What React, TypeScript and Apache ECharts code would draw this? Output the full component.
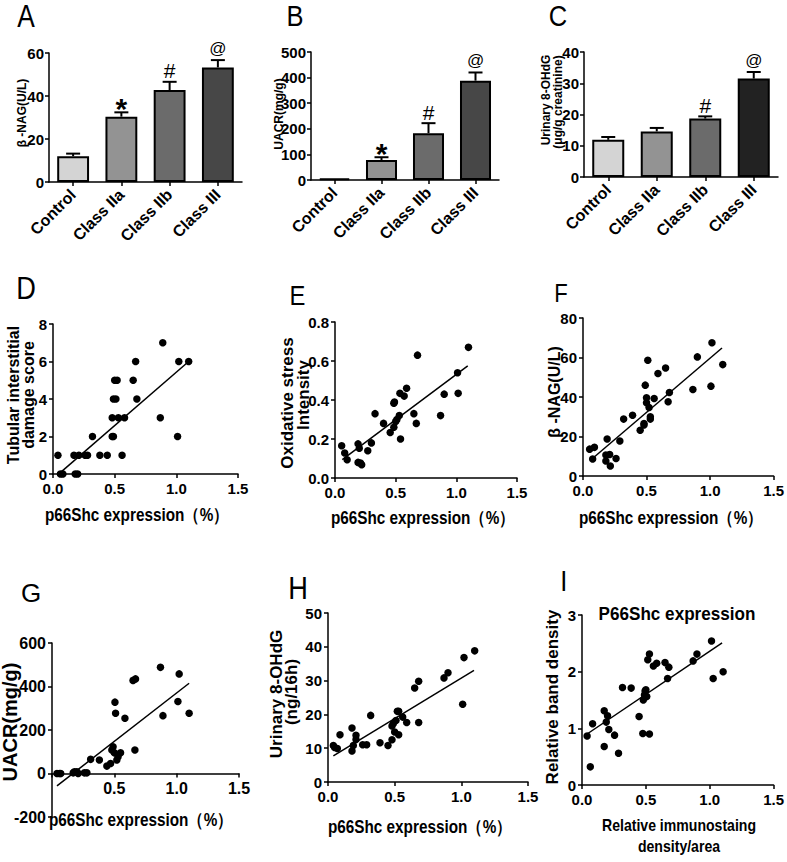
import React, { useEffect, useRef } from "react";
import * as echarts from "echarts";

const FONT = "'Liberation Sans', Arial, Helvetica, sans-serif";
const NARROW = "'Liberation Sans Narrow', 'Arial Narrow', 'Liberation Sans', Arial, sans-serif";

// ---------- Bar panels (A, B, C) ----------
const barCategories = ["Control", "Class IIa", "Class IIb", "Class III"];
const barColorsAB = ["#d4d4d4", "#939393", "#6b6b6b", "#474747"];
const barColorsC = ["#d4d4d4", "#939393", "#6b6b6b", "#222222"];

const nagMeans = [12.0, 30.4, 42.8, 53.3];
const nagSem = [1.2, 2.0, 3.8, 3.4];
const nagMarks = ["", "*", "#", "@"];

const uacrMeans = [6, 78, 183, 388];
const uacrSem = [0, 11, 39, 32];
const uacrMarks = ["", "*", "#", "@"];

const ohdgMeans = [11.9, 14.6, 18.7, 31.5];
const ohdgSem = [0.9, 1.1, 0.7, 2.1];
const ohdgMarks = ["", "", "#", "@"];

// ---------- Scatter panels ----------
const dX = [0.04, 0.06, 0.08, 0.18, 0.2, 0.17, 0.21, 0.26, 0.28, 0.38, 0.44, 0.56, 0.32, 0.48, 0.49, 1.01, 0.48, 0.53, 0.58, 0.87, 0.49, 0.51, 0.68, 0.5, 0.52, 0.65, 0.67, 1.02, 1.1, 0.89];
const dY = [1, 0, 0, 0, 0, 1, 1, 1, 1, 1, 1, 1, 2, 2, 2, 2, 3, 3, 3, 3, 4, 4, 4, 5, 5, 5, 6, 6, 6, 7];
const dFitX = [0.05, 1.1];
const dFitY = [0.02, 6.0];

const eX = [0.055, 0.08, 0.1, 0.19, 0.2, 0.19, 0.21, 0.22, 0.27, 0.3, 0.33, 0.4, 0.455, 0.485, 0.49, 0.485, 0.5, 0.51, 0.53, 0.535, 0.54, 0.57, 0.59, 0.65, 0.67, 0.68, 0.87, 0.9, 1.01, 1.015, 1.1];
const eY = [0.165, 0.128, 0.094, 0.175, 0.153, 0.08, 0.077, 0.068, 0.14, 0.18, 0.33, 0.28, 0.233, 0.383, 0.39, 0.26, 0.29, 0.3, 0.32, 0.434, 0.2, 0.42, 0.46, 0.33, 0.28, 0.63, 0.32, 0.43, 0.54, 0.434, 0.67];
const eFitX = [0.06, 1.094];
const eFitY = [0.094, 0.575];

const fX = [0.052, 0.076, 0.09, 0.18, 0.18, 0.19, 0.21, 0.215, 0.26, 0.29, 0.32, 0.39, 0.45, 0.48, 0.48, 0.49, 0.5, 0.5, 0.51, 0.52, 0.53, 0.53, 0.56, 0.59, 0.65, 0.67, 0.68, 0.865, 0.9, 1.007, 1.015, 1.1];
const fY = [13.6, 8.6, 14.5, 7.6, 10.6, 18.7, 10.9, 5.1, 8.9, 17.7, 28.8, 30.8, 23.2, 25.8, 26.6, 46, 37.1, 39.6, 58.6, 34.7, 30, 28.8, 39.2, 51.9, 54.7, 37.6, 42.3, 43.8, 60.3, 45.5, 67.5, 56.4];
const fFitX = [0.07, 1.094];
const fFitY = [8.6, 64.8];

const gX = [0.04, 0.06, 0.07, 0.17, 0.18, 0.2, 0.21, 0.26, 0.28, 0.31, 0.38, 0.44, 0.47, 0.48, 0.49, 0.5, 0.505, 0.51, 0.52, 0.53, 0.55, 0.585, 0.65, 0.67, 0.665, 0.87, 0.89, 1.01, 1.02, 1.1];
const gY = [0, 0, 0, 3, 8, 8, 0, 3, 3, 65, 62, 34, 46, 108, 123, 95, 328, 277, 62, 77, 95, 254, 428, 435, 108, 488, 266, 331, 458, 277];
const gFitX = [0.04, 1.1];
const gFitY = [-57, 415];

const hX = [0.04, 0.05, 0.07, 0.09, 0.18, 0.18, 0.19, 0.21, 0.21, 0.26, 0.29, 0.32, 0.39, 0.45, 0.48, 0.48, 0.49, 0.5, 0.51, 0.52, 0.53, 0.53, 0.56, 0.59, 0.65, 0.68, 0.68, 0.87, 0.9, 1.01, 1.02, 1.1];
const hY = [10.8, 10.2, 9.9, 14, 16, 9.2, 10.8, 13.8, 12.6, 11, 11, 19.7, 11.6, 10.8, 12.5, 16.6, 17.3, 14.8, 18.2, 20.9, 20.9, 14, 19.2, 17.6, 27.8, 17.6, 29.8, 30.8, 32.3, 23, 36.8, 38.8];
const hFitX = [0.04, 1.095];
const hFitY = [7.7, 33.0];

const iX = [0.04, 0.065, 0.083, 0.174, 0.174, 0.19, 0.2, 0.21, 0.255, 0.286, 0.317, 0.385, 0.447, 0.476, 0.48, 0.489, 0.494, 0.5, 0.507, 0.515, 0.528, 0.528, 0.559, 0.585, 0.65, 0.67, 0.68, 0.87, 0.9, 1.014, 1.027, 1.105];
const iY = [0.865, 0.32, 1.08, 1.31, 0.68, 1.11, 1.22, 0.98, 0.88, 0.56, 1.72, 1.71, 1.21, 0.91, 1.5, 1.59, 1.66, 1.68, 1.56, 2.21, 2.31, 0.9, 2.1, 2.15, 2.16, 1.88, 2.08, 2.19, 2.31, 2.54, 1.88, 2.0];
const iFitX = [0.04, 1.097];
const iFitY = [0.9, 2.51];

const xTicks = { min: 0, max: 1.5, interval: 0.5 };

const zip = (xs: number[], ys: number[]) => xs.map((x, i) => [x, ys[i]]);

const AXIS_LINE = { show: true, onZero: false, lineStyle: { color: "#000", width: 1.5 } };
const AXIS_TICK = { show: true, length: 4, lineStyle: { color: "#000", width: 1.5 } };

const markStyle: Record<string, { size: number; weight: string; dy: number }> = {
  "*": { size: 30, weight: "bold", dy: -4 },
  "#": { size: 21, weight: "normal", dy: -11 },
  "@": { size: 17, weight: "normal", dy: -12 },
};

function txt(
  text: string,
  x: number,
  y: number,
  size: number,
  opts: { weight?: string; rot?: number; sx?: number } = {}
) {
  return {
    type: "text",
    x,
    y,
    rotation: opts.rot || 0,
    scaleX: opts.sx || 1,
    silent: true,
    style: {
      text,
      fill: "#000",
      fontSize: size,
      lineHeight: size,
      fontWeight: opts.weight || "bold",
      fontFamily: FONT,
      align: "center",
      verticalAlign: "middle",
      textAlign: "center",
      textVerticalAlign: "middle",
    },
  };
}

export default function App() {
  const ref = useRef<HTMLDivElement>(null);

  useEffect(() => {
    document.body.style.margin = "0";
    if (!ref.current) return;
    const chart = echarts.init(ref.current, undefined, { renderer: "svg" });

    const grids = [
      { left: 49, top: 53, width: 193, height: 129 },
      { left: 311, top: 52, width: 188, height: 128 },
      { left: 584, top: 52, width: 194, height: 125 },
      { left: 53, top: 324, width: 185, height: 150 },
      { left: 335, top: 322, width: 182, height: 156 },
      { left: 583, top: 318, width: 191, height: 158 },
      { left: 52, top: 643, width: 187, height: 174 },
      { left: 328, top: 613, width: 200, height: 169 },
      { left: 582, top: 615, width: 193, height: 170 },
    ];

    const barY = [
      { min: 0, max: 60, interval: 20 },
      { min: 0, max: 500, interval: 100 },
      { min: 0, max: 40, interval: 10 },
    ];
    const scY = [
      { min: 0, max: 8, interval: 2, dec: 0 },
      { min: 0, max: 0.8, interval: 0.2, dec: 1 },
      { min: 0, max: 80, interval: 20, dec: 0 },
      { min: -200, max: 600, interval: 200, dec: 0 },
      { min: 0, max: 50, interval: 10, dec: 0 },
      { min: 0, max: 3, interval: 1, dec: 0 },
    ];

    const xAxes: any[] = [];
    const yAxes: any[] = [];
    for (let g = 0; g < 3; g++) {
      xAxes.push({
        gridIndex: g,
        type: "category",
        data: barCategories,
        axisLine: AXIS_LINE,
        axisTick: { ...AXIS_TICK, alignWithLabel: true },
        axisLabel: {
          interval: 0,
          rotate: 45,
          margin: 10,
          color: "#000",
          fontSize: 16,
          fontWeight: "bold",
          fontFamily: FONT,
        },
        splitLine: { show: false },
      });
      yAxes.push({
        gridIndex: g,
        type: "value",
        ...barY[g],
        axisLine: AXIS_LINE,
        axisTick: AXIS_TICK,
        axisLabel: { margin: 5, color: "#000", fontSize: 15, fontWeight: "bold", fontFamily: NARROW },
        splitLine: { show: false },
      });
    }
    for (let k = 0; k < 6; k++) {
      const g = k + 3;
      const isG = k === 3;
      // G: x axis drawn on the zero line of its y axis
      const zeroOffset = isG ? -(174 * 200) / 800 : 0;
      xAxes.push({
        gridIndex: g,
        type: "value",
        position: "bottom",
        offset: zeroOffset,
        ...xTicks,
        axisLine: AXIS_LINE,
        axisTick: AXIS_TICK,
        axisLabel: {
          margin: 7,
          color: "#000",
          fontSize: isG ? 16 : 15,
          fontWeight: "bold",
          fontFamily: FONT,
          formatter: (v: number) => (isG && v === 0 ? "" : v.toFixed(1)),
        },
        splitLine: { show: false },
      });
      const sy = scY[k];
      yAxes.push({
        gridIndex: g,
        type: "value",
        min: sy.min,
        max: sy.max,
        interval: sy.interval,
        axisLine: AXIS_LINE,
        axisTick: AXIS_TICK,
        axisLabel: {
          margin: 6,
          color: "#000",
          fontSize: isG ? 16 : 15,
          fontWeight: "bold",
          fontFamily: FONT,
          formatter: (v: number) => v.toFixed(sy.dec),
        },
        splitLine: { show: false },
      });
    }

    const series: any[] = [];
    const barSets = [
      { means: nagMeans, sem: nagSem, marks: nagMarks, colors: barColorsAB },
      { means: uacrMeans, sem: uacrSem, marks: uacrMarks, colors: barColorsAB },
      { means: ohdgMeans, sem: ohdgSem, marks: ohdgMarks, colors: barColorsC },
    ];
    barSets.forEach((s, g) => {
      series.push({
        type: "bar",
        xAxisIndex: g,
        yAxisIndex: g,
        barWidth: "66%",
        data: s.means.map((v, i) => ({
          value: v,
          itemStyle: { color: s.colors[i], borderColor: "#000", borderWidth: 2 },
        })),
      });
      series.push({
        type: "custom",
        xAxisIndex: g,
        yAxisIndex: g,
        z: 5,
        data: s.means.map((m, i) => [i, m, s.sem[i]]),
        renderItem: (params: any, api: any) => {
          const i = api.value(0);
          const m = api.value(1);
          const e = api.value(2);
          const p0 = api.coord([i, m]);
          const p1 = api.coord([i, m + e]);
          const children: any[] = [];
          if (e > 0) {
            children.push({
              type: "line",
              shape: { x1: p0[0], y1: p0[1], x2: p1[0], y2: p1[1] },
              style: { stroke: "#000", lineWidth: 2 },
            });
            children.push({
              type: "line",
              shape: { x1: p1[0] - 7, y1: p1[1], x2: p1[0] + 7, y2: p1[1] },
              style: { stroke: "#000", lineWidth: 2 },
            });
          }
          const mk = s.marks[params.dataIndex];
          if (mk) {
            const st = markStyle[mk];
            children.push({
              type: "text",
              x: p1[0],
              y: p1[1] + st.dy,
              style: {
                text: mk,
                fill: "#000",
                fontSize: st.size,
                fontWeight: st.weight,
                fontFamily: FONT,
                align: "center",
                verticalAlign: "middle",
              },
            });
          }
          return { type: "group", children };
        },
      });
    });

    const scSets = [
      { x: dX, y: dY, fx: dFitX, fy: dFitY },
      { x: eX, y: eY, fx: eFitX, fy: eFitY },
      { x: fX, y: fY, fx: fFitX, fy: fFitY },
      { x: gX, y: gY, fx: gFitX, fy: gFitY },
      { x: hX, y: hY, fx: hFitX, fy: hFitY },
      { x: iX, y: iY, fx: iFitX, fy: iFitY },
    ];
    scSets.forEach((s, k) => {
      const g = k + 3;
      series.push({
        type: "line",
        xAxisIndex: g,
        yAxisIndex: g,
        data: zip(s.fx, s.fy),
        symbol: "none",
        lineStyle: { color: "#000", width: 1.5 },
        z: 2,
      });
      series.push({
        type: "scatter",
        xAxisIndex: g,
        yAxisIndex: g,
        data: zip(s.x, s.y),
        symbol: "circle",
        symbolSize: 7.5,
        itemStyle: { color: "#000", opacity: 1 },
        z: 3,
      });
    });

    const R = Math.PI / 2;
    const graphic: any[] = [
      // panel letters
      txt("A", 26, 16, 31, { weight: "normal", sx: 0.85 }),
      txt("B", 295, 16, 30, { weight: "normal", sx: 0.85 }),
      txt("C", 558, 16, 30, { weight: "normal", sx: 0.85 }),
      txt("D", 26, 288, 32, { weight: "normal", sx: 0.85 }),
      txt("E", 297.5, 295, 28, { weight: "normal", sx: 0.85 }),
      txt("F", 561, 292.5, 26, { weight: "normal", sx: 0.85 }),
      txt("G", 31, 592.5, 26, { weight: "normal" }),
      txt("H", 298, 588, 32, { weight: "normal", sx: 0.85 }),
      txt("I", 563.7, 581, 30, { weight: "normal", sx: 0.85 }),
      // bar panel y titles
      txt("β -NAG(U/L)", 22, 113, 12, { rot: R }),
      txt("UACR(mg/g)", 279, 114, 12, { rot: R }),
      txt("Urinary 8-OHdG", 546, 100, 12, { rot: R }),
      txt("(μg/g creatinine)", 558, 102, 12, { rot: R }),
      // D
      txt("Tubular interstitial", 13, 395, 16, { rot: R }),
      txt("damage score", 28, 395, 16, { rot: R }),
      txt("p66Shc expression（%）", 137, 515, 18, { sx: 0.85 }),
      // E
      txt("Oxidative stress", 287, 403, 17, { rot: R }),
      txt("Intensity", 303, 395, 17, { rot: R }),
      txt("p66Shc expression（%）", 423, 518, 18, { sx: 0.85 }),
      // F
      txt("β -NAG(U/L)", 554, 392, 16, { rot: R }),
      txt("p66Shc expression（%）", 671, 518, 18, { sx: 0.85 }),
      // G
      txt("UACR(mg/g)", 10, 722, 20, { rot: R }),
      txt("p66Shc expression（%）", 141, 820, 18, { sx: 0.85 }),
      // H
      txt("Urinary 8-OHdG", 276, 694, 17, { rot: R }),
      txt("(ng/16h)", 291, 692, 17, { rot: R }),
      txt("p66Shc expression（%）", 420, 827, 18, { sx: 0.85 }),
      // I
      txt("P66Shc expression", 677, 614, 18, { sx: 0.95 }),
      txt("Relative band density", 552, 697, 17, { rot: R }),
      txt("Relative immunostaing", 679, 825, 16, { sx: 0.88 }),
      txt("density/area", 679, 846, 16, { sx: 0.88 }),
    ];

    chart.setOption({
      animation: false,
      backgroundColor: "#fff",
      grid: grids.map((g) => ({ ...g, containLabel: false })),
      xAxis: xAxes,
      yAxis: yAxes,
      series,
      graphic,
    });

    return () => chart.dispose();
  }, []);

  return <div ref={ref} style={{ width: 787, height: 862 }} />;
}
